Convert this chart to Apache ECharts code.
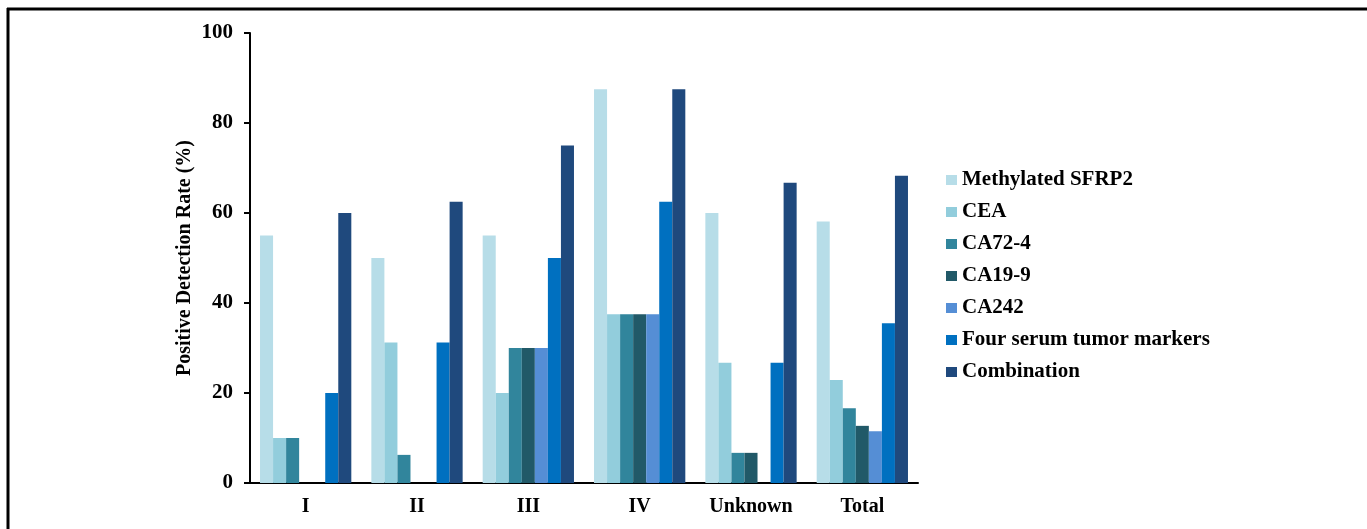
<!DOCTYPE html>
<html>
<head>
<meta charset="utf-8">
<script src="https://cdn.jsdelivr.net/npm/echarts@6/dist/echarts.min.js"></script>
<style>
  html, body { margin: 0; padding: 0; background: #fff; }
  #chart { width: 1367px; height: 529px; }
</style>
</head>
<body>
<div id="chart"></div>
<script>
// stages
const categories = ['I', 'II', 'III', 'IV', 'Unknown', 'Total']
const seriesNames = ['Methylated SFRP2', 'CEA', 'CA72-4', 'CA19-9', 'CA242', 'Four serum tumor markers', 'Combination']
const seriesColors = ['#b7dde8', '#92cddc', '#31859c', '#215968', '#558ed5', '#0070c0', '#1f497d']

// positive rate (%) per stage
const sfrp2 = [55, 50, 55, 87.5, 60, 58.1]
const cea = [10, 31.25, 20, 37.5, 26.7, 22.9]
const ca724 = [10, 6.25, 30, 37.5, 6.7, 16.6]
const ca199 = [0, 0, 30, 37.5, 6.7, 12.7]
const ca242 = [0, 0, 30, 37.5, 0, 11.5]
const fourMarkers = [20, 31.25, 50, 62.5, 26.7, 35.5]
const combination = [60, 62.5, 75, 87.5, 66.7, 68.3]

const yTicks = [0, 20, 40, 60, 80, 100]

const seriesData = [sfrp2, cea, ca724, ca199, ca242, fourMarkers, combination]
const font = '"Liberation Serif", "Times New Roman", serif'

const chart = echarts.init(document.getElementById('chart'))
chart.setOption({
  animation: false,
  textStyle: { fontFamily: font },
  grid: { left: 250, right: 449, top: 33, bottom: 46 },
  legend: {
    orient: 'vertical',
    left: 941,
    top: 164,
    icon: 'rect',
    itemWidth: 11,
    itemHeight: 10,
    itemGap: 10,
    textStyle: { fontFamily: font, fontSize: 21, fontWeight: 'bold', color: '#000', lineHeight: 22 },
    data: seriesNames
  },
  xAxis: {
    type: 'category',
    data: categories,
    axisLine: { lineStyle: { color: '#000', width: 2 } },
    axisTick: { alignWithLabel: true, length: 5, lineStyle: { color: '#000', width: 2 } },
    axisLabel: { interval: 0, color: '#000', fontSize: 20, fontWeight: 'bold', margin: 14, fontFamily: font }
  },
  yAxis: {
    type: 'value',
    min: yTicks[0],
    max: yTicks[yTicks.length - 1],
    interval: 20,
    name: 'Positive Detection Rate (%)',
    nameLocation: 'middle',
    nameGap: 55,
    nameTextStyle: { fontSize: 20, fontWeight: 'bold', color: '#000', fontFamily: font },
    axisLine: { show: true, lineStyle: { color: '#000', width: 2 } },
    axisTick: { show: true, length: 6, lineStyle: { color: '#000', width: 2 } },
    splitLine: { show: false },
    axisLabel: { color: '#000', fontSize: 21, fontWeight: 'bold', margin: 17, fontFamily: font }
  },
  series: seriesNames.map((name, i) => ({
    name: name,
    type: 'bar',
    data: seriesData[i],
    barGap: '0%',
    barCategoryGap: '18%',
    itemStyle: { color: seriesColors[i] }
  })),
  graphic: [
    // frame lines of the original figure
    { type: 'line', shape: { x1: 7, y1: 9, x2: 1367, y2: 9 }, style: { stroke: '#000', lineWidth: 3 } },
    { type: 'line', shape: { x1: 8, y1: 8, x2: 8, y2: 529 }, style: { stroke: '#000', lineWidth: 3 } }
  ]
})
</script>
</body>
</html>
